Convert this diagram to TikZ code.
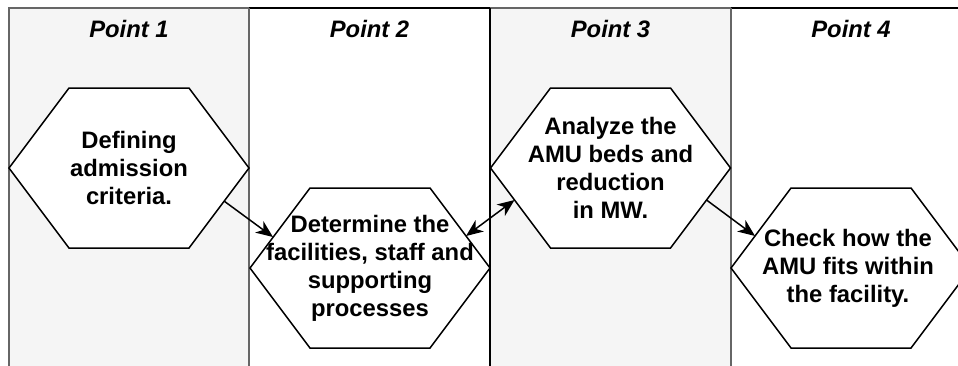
\documentclass[tikz,border=0pt]{standalone}
\usepackage{fontspec}
\setmainfont{Liberation Sans}
\usetikzlibrary{arrows.meta,calc}
\definecolor{lanegray}{HTML}{F5F5F5}
\definecolor{lanestroke}{HTML}{666666}
\tikzset{
  lanefill/.style={fill=lanegray,draw=none},
  grayline/.style={draw=lanestroke,line width=1.8pt},
  blackline/.style={draw=black,line width=2pt},
  hexbox/.style={draw=black,fill=white,line width=1.5pt,line join=miter},
  hextext/.style={align=center,font=\fontsize{23.8}{28}\selectfont\bfseries,inner sep=0pt},
  headtext/.style={font=\fontsize{23.8}{28}\selectfont\bfseries\itshape,inner sep=0pt},
  tipa/.tip={Stealth[length=17pt,width=14pt,inset=5pt]},
  flow/.style={draw=black,line width=1.5pt,-tipa},
  flowboth/.style={draw=black,line width=1.5pt,tipa-tipa}
}
\begin{document}
\begin{tikzpicture}[x=1pt,y=-1pt]
\useasboundingbox (0,0) rectangle (958,365);
% lanes
\fill[lanefill] (9,8) rectangle (249,370);
\fill[lanefill] (490,8) rectangle (731,370);
\coordinate (l1tl) at (9,8);
\coordinate (l1bl) at (9,370);
\coordinate (l2tl) at (249,8);
\coordinate (l2bl) at (249,370);
\coordinate (l3tl) at (490,8);
\coordinate (l3bl) at (490,370);
\coordinate (l4tl) at (731,8);
\coordinate (l4bl) at (731,370);
\coordinate (l4tr) at (975,8);
\draw[grayline] (l1bl) -- (l1tl) -- (l2tl);
\draw[grayline] (l3tl) -- (l4tl);
\draw[blackline] (l2tl) -- (l3tl);
\draw[blackline] (l4tl) -- (l4tr);
\draw[grayline] (l2tl) -- (l2bl);
\draw[grayline] (l4tl) -- (l4bl);
\draw[blackline] (l3tl) -- (l3bl);
% headers
\node[headtext] (p1) at (129,29) {Point 1};
\node[headtext] (p2) at (369.5,29) {Point 2};
\node[headtext] (p3) at (610.5,29) {Point 3};
\node[headtext] (p4) at (851,29) {Point 4};
% hexagons
\coordinate (c1) at (129,168);
\coordinate (c2) at (370,268);
\coordinate (c3) at (610.5,168);
\coordinate (c4) at (851,268);
\foreach \c in {c1,c2,c3,c4}{
  \draw[hexbox] (\c) ++(-120,0) -- ++(60,-80) -- ++(120,0) -- ++(60,80) -- ++(-60,80) -- ++(-120,0) -- cycle;
}
\node[hextext] (h1) at (c1) {Defining\\admission\\criteria.};
\node[hextext] (h2) at (c2) {Determine the\\facilities, staff and\\supporting\\processes};
\node[hextext] (h3) at (c3) {Analyze the\\AMU beds and\\reduction\\in MW.};
\node[hextext] (h4) at ([xshift=-3pt]c4) {Check how the\\AMU fits within\\the facility.};
% connector end points on hexagon edges
\coordinate (a1s) at ($(c1)+(95,33)$);
\coordinate (a1e) at ($(c2)+(-97,-31)$);
\coordinate (a2s) at ($(c2)+(96,-32)$);
\coordinate (a2e) at ($(c3)+(-96,32)$);
\coordinate (a3s) at ($(c3)+(96,32)$);
\coordinate (a3e) at ($(c4)+(-96,-32)$);
\draw[flow] (a1s) -- (a1e);
\draw[flowboth] (a2s) -- (a2e);
\draw[flow] (a3s) -- (a3e);
\end{tikzpicture}
\end{document}
